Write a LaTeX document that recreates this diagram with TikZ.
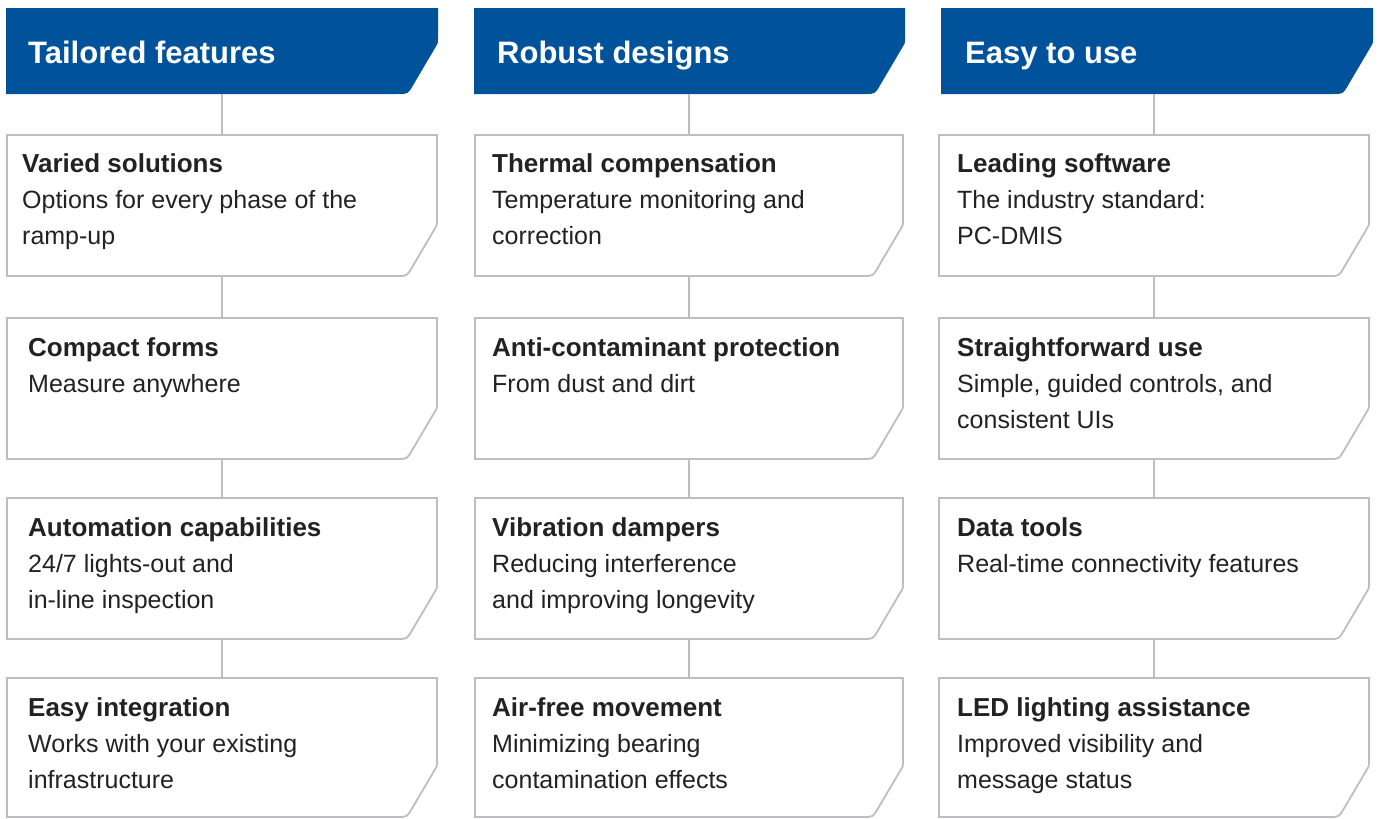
\documentclass[tikz,border=0pt]{standalone}
\usepackage{fontspec}
\setmainfont{Liberation Sans}
\definecolor{hblue}{HTML}{00529B}
\definecolor{bline}{HTML}{BEBEC2}
\definecolor{txt}{HTML}{222222}
\tikzset{
  hdrfill/.style={fill=hblue, draw=none},
  boxline/.style={draw=bline, line width=1.8pt, fill=white},
  conn/.style={draw=bline, line width=1.8pt},
  htext/.style={anchor=base west, inner sep=0pt, text=white, font=\fontsize{31}{36}\selectfont\bfseries},
  ttl/.style={anchor=base west, inner sep=0pt, text=txt, font=\fontsize{26}{30}\selectfont\bfseries},
  bdy/.style={anchor=base west, inner sep=0pt, text=txt, font=\fontsize{25}{30}\selectfont},
}
% #1 name, #2 left, #3 top, #4 right, #5 bottom, #6 style
\newcommand{\cutbox}[6]{%
  \node[inner sep=0pt, outer sep=0pt, draw=none, minimum width={#4-#2}, minimum height={#5-#3}] (#1) at ({(#2+#4)/2},{(#3+#5)/2}) {};
  \path[#6] (#2,#3) -- (#4,#3) -- (#4,#5-55) .. controls (#4,#5-51) .. (#4-2,#5-47.6) -- (#4-25,#5-8.6) .. controls (#4-30,#5) .. (#4-40,#5) -- (#2,#5) -- cycle;}
% #1 name, #2 x, #3 baseline, #4 title, #5 body lines
\newcommand{\btext}[5]{%
  \node[ttl] (#1) at (#2,#3) {#4};
  \foreach \l [count=\i] in {#5} {\node[bdy] (#1-\i) at (#2,{#3+36*\i}) {\l};}}
\begin{document}
\begin{tikzpicture}[x=1pt,y=-1pt]
\useasboundingbox (0,0) rectangle (1379,819);
% headers
\cutbox{h1}{6}{8}{438}{94}{hdrfill}
\cutbox{h2}{474}{8}{905}{94}{hdrfill}
\cutbox{h3}{941}{8}{1373}{94}{hdrfill}
\node[htext] (h1t) at (28,63) {Tailored features};
\node[htext] (h2t) at (497,63) {Robust designs};
\node[htext] (h3t) at (965,63) {Easy to use};
% boxes
\cutbox{b11}{7}{135}{437}{276}{boxline}
\cutbox{b12}{7}{318}{437}{459}{boxline}
\cutbox{b13}{7}{498}{437}{639}{boxline}
\cutbox{b14}{7}{678}{437}{817}{boxline}
\cutbox{b21}{475}{135}{903}{276}{boxline}
\cutbox{b22}{475}{318}{903}{459}{boxline}
\cutbox{b23}{475}{498}{903}{639}{boxline}
\cutbox{b24}{475}{678}{903}{817}{boxline}
\cutbox{b31}{939}{135}{1369}{276}{boxline}
\cutbox{b32}{939}{318}{1369}{459}{boxline}
\cutbox{b33}{939}{498}{1369}{639}{boxline}
\cutbox{b34}{939}{678}{1369}{817}{boxline}
% connectors
\foreach \c in {1,2,3} {
  \draw[conn] (b\c1.north |- h\c.south) -- (b\c1.north);
  \draw[conn] (b\c1) -- (b\c2);
  \draw[conn] (b\c2) -- (b\c3);
  \draw[conn] (b\c3) -- (b\c4);
}
% texts column 1
\btext{t11}{22}{172}{Varied solutions}{{Options for every phase of the},{ramp-up}}
\btext{t12}{28}{356}{Compact forms}{{Measure anywhere}}
\btext{t13}{28}{536}{Automation capabilities}{{24/7 lights-out and},{in-line inspection}}
\btext{t14}{28}{716}{Easy integration}{{Works with your existing},{infrastructure}}
% texts column 2
\btext{t21}{492}{172}{Thermal compensation}{{Temperature monitoring and},{correction}}
\btext{t22}{492}{356}{Anti-contaminant protection}{{From dust and dirt}}
\btext{t23}{492}{536}{Vibration dampers}{{Reducing interference},{and improving longevity}}
\btext{t24}{492}{716}{Air-free movement}{{Minimizing bearing},{contamination effects}}
% texts column 3
\btext{t31}{957}{172}{Leading software}{{The industry standard:},{PC-DMIS}}
\btext{t32}{957}{356}{Straightforward use}{{Simple, guided controls, and},{consistent UIs}}
\btext{t33}{957}{536}{Data tools}{{Real-time connectivity features}}
\btext{t34}{957}{716}{LED lighting assistance}{{Improved visibility and},{message status}}
\end{tikzpicture}
\end{document}
